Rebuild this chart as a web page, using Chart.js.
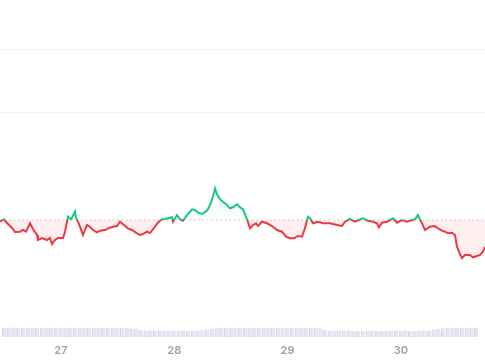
<!DOCTYPE html>
<html>
<head>
<meta charset="utf-8">
<script src="https://cdn.jsdelivr.net/npm/chart.js@4/dist/chart.umd.min.js"></script>
<style>
  html, body { margin: 0; padding: 0; background: #fff; }
  canvas { display: block; }
</style>
</head>
<body>
<canvas id="price-chart" width="485" height="360"></canvas>
<script>
// ── DATA ───────────────────────────────────────
// time in days of the month (fractional), price in arbitrary units
const times = [
  26.462, 26.497, 26.524, 26.568, 26.594, 26.639, 26.665, 26.692, 26.727, 26.744,
  26.762, 26.789, 26.797, 26.833, 26.877, 26.903, 26.921, 26.947, 26.974, 27.018,
  27.036, 27.062, 27.089, 27.106, 27.124, 27.133, 27.150, 27.168, 27.195, 27.212,
  27.230, 27.256, 27.283, 27.318, 27.345, 27.389, 27.415, 27.459, 27.495, 27.521,
  27.556, 27.592, 27.627, 27.671, 27.698, 27.724, 27.759, 27.786, 27.830, 27.857,
  27.892, 27.918, 27.945, 27.980, 27.989, 28.024, 28.051, 28.077, 28.113, 28.157,
  28.183, 28.210, 28.245, 28.289, 28.316, 28.342, 28.360, 28.377, 28.404, 28.430,
  28.466, 28.492, 28.519, 28.554, 28.580, 28.607, 28.642, 28.669, 28.695, 28.722,
  28.739, 28.774, 28.819, 28.863, 28.907, 28.951, 28.986, 29.022, 29.057, 29.092,
  29.128, 29.154, 29.180, 29.198, 29.225, 29.269, 29.313, 29.375, 29.436, 29.481,
  29.507, 29.551, 29.595, 29.639, 29.666, 29.710, 29.754, 29.789, 29.807, 29.834,
  29.878, 29.931, 29.966, 30.010, 30.054, 30.098, 30.125, 30.151, 30.187, 30.213,
  30.257, 30.301, 30.328, 30.363, 30.390, 30.416, 30.451, 30.478, 30.496, 30.522,
  30.540, 30.566, 30.610, 30.637, 30.672, 30.699, 30.725, 30.743
];
const prices = [
  99.83, 100.07, 99.70, 99.20, 98.80, 98.83, 99.00, 98.83, 99.67, 99.30,
  98.93, 98.50, 98.00, 98.20, 98.00, 98.20, 97.60, 98.00, 98.20, 98.20,
  98.83, 100.33, 100.07, 100.40, 100.83, 100.20, 99.83, 99.33, 98.50, 99.00,
  99.50, 99.33, 99.00, 98.77, 98.93, 99.00, 99.17, 99.33, 99.40, 99.83,
  99.50, 99.17, 99.00, 98.67, 98.50, 98.60, 98.83, 98.70, 99.33, 99.75,
  100.07, 100.10, 100.17, 100.27, 99.83, 100.50, 100.07, 99.93, 100.50, 101.07,
  101.00, 100.73, 100.60, 100.93, 101.50, 102.33, 103.15, 102.60, 102.07, 101.83,
  101.50, 101.17, 101.27, 101.57, 101.27, 101.07, 100.07, 99.17, 99.50, 99.67,
  99.40, 99.83, 99.67, 99.40, 99.00, 98.83, 98.33, 98.17, 98.17, 98.40,
  98.33, 99.17, 100.33, 100.17, 99.67, 99.83, 99.67, 99.67, 99.50, 99.40,
  99.83, 100.10, 99.83, 100.05, 100.17, 99.93, 99.83, 99.67, 99.27, 99.73,
  99.83, 100.17, 99.73, 100.00, 99.83, 100.00, 100.07, 100.50, 99.67, 99.00,
  99.33, 99.40, 99.17, 98.93, 98.83, 98.67, 98.73, 98.50, 97.33, 96.60,
  96.20, 96.50, 96.50, 96.27, 96.40, 96.50, 96.83, 97.30
];

// hourly volume, starting 26th 12:00
const volStart = 26.5;
const volStep  = 1 / 24;
const volumes = [
  9.2, 9.0, 9.4, 8.8, 9.3, 9.1, 9.5, 8.9, 9.2, 9.0,
  9.3, 8.7, 9.1, 9.4, 9.0, 9.2, 8.8, 9.3, 9.5, 9.1,
  9.0, 9.2, 8.9, 9.3, 9.1, 8.8, 9.0, 8.6, 8.2, 6.8,
  6.5, 6.6, 6.4, 6.7, 6.5, 6.3, 6.6, 6.4, 6.5, 6.2,
  6.4, 6.6, 6.8, 7.4, 8.3, 8.9, 9.2, 9.0, 9.3, 9.1,
  9.4, 9.2, 9.0, 9.3, 9.1, 9.2, 8.9, 9.3, 9.0, 9.2,
  9.4, 9.1, 9.0, 9.2, 8.8, 8.9, 9.1, 8.4, 7.0, 6.5,
  6.3, 6.4, 6.2, 6.5, 6.3, 6.1, 6.0, 6.2, 6.3, 6.1,
  6.2, 6.4, 6.2, 6.3, 6.1, 6.4, 6.2, 6.3, 6.5, 6.4,
  6.6, 7.2, 8.0, 8.8, 9.1, 9.3, 9.0, 9.2, 9.4, 9.1,
  9.2
];
const volTimes = volumes.map((_, i) => volStart + i * volStep);

const baseline  = 100;             // opening price, dotted reference line
const dayTicks  = [27, 28, 29, 30];
const gridLines = [117.1, 110.7];

// ── COLOURS ────────────────────────────────────
const GREEN = '#16c784';
const RED   = '#ea3943';

// line colour switches exactly at the baseline pixel
function splitColour(ctx, above, below) {
  const chart = ctx.chart;
  const area = chart.chartArea;
  if (!area) return below;
  const y0 = chart.scales.y.getPixelForValue(baseline);
  let t = (y0 - area.top) / (area.bottom - area.top);
  t = Math.min(1, Math.max(0, t));
  const g = chart.ctx.createLinearGradient(0, area.top, 0, area.bottom);
  g.addColorStop(0, above);
  g.addColorStop(t, above);
  g.addColorStop(t, below);
  g.addColorStop(1, below);
  return g;
}

const xMin = times[0], xMax = times[times.length - 1];

new Chart(document.getElementById('price-chart'), {
  type: 'line',
  data: {
    datasets: [
      {
        label: 'Price',
        data: times.map((t, i) => ({ x: t, y: prices[i] })),
        borderColor: ctx => splitColour(ctx, GREEN, RED),
        borderWidth: 2,
        pointRadius: 0,
        tension: 0,
        fill: {
          target: { value: baseline },
          above: 'rgba(22,199,132,0.04)',
          below: 'rgba(234,57,67,0.08)'
        },
        order: 0
      },
      {
        label: 'Open',
        data: [{ x: xMin, y: baseline }, { x: xMax, y: baseline }],
        borderColor: 'rgba(150,155,165,0.55)',
        borderWidth: 1,
        borderDash: [1.5, 3],
        pointRadius: 0,
        fill: false,
        order: 1
      },
      {
        type: 'bar',
        label: 'Volume',
        data: volTimes.map((t, i) => ({ x: t, y: volumes[i] })),
        yAxisID: 'y2',
        backgroundColor: '#e4e7ee',
        borderColor: '#d2d6df',
        borderWidth: { left: 1, right: 0, top: 0, bottom: 0 },
        barThickness: 4,
        order: 2
      }
    ]
  },
  options: {
    responsive: false,
    animation: false,
    layout: { padding: 0 },
    plugins: {
      legend: { display: false },
      tooltip: { enabled: false }
    },
    scales: {
      x: {
        type: 'linear',
        offset: false,
        min: xMin,
        max: xMax,
        afterBuildTicks: s => { s.ticks = dayTicks.map(v => ({ value: v })); },
        afterFit: s => { s.height = 23; },
        grid: { display: false, drawTicks: false },
        border: { display: false },
        ticks: {
          padding: 7,
          color: '#9aa0a9',
          font: { family: 'Inter', size: 11, weight: '600' },
          maxRotation: 0,
          callback: v => String(v)
        }
      },
      y: {
        min: 88.3,
        max: 122,
        afterBuildTicks: s => { s.ticks = gridLines.map(v => ({ value: v })); },
        grid: { color: '#f2f2f4', drawTicks: false },
        border: { display: false },
        ticks: { display: false }
      },
      y2: {
        display: false,
        min: 0,
        max: 337
      }
    }
  }
});
</script>
</body>
</html>
